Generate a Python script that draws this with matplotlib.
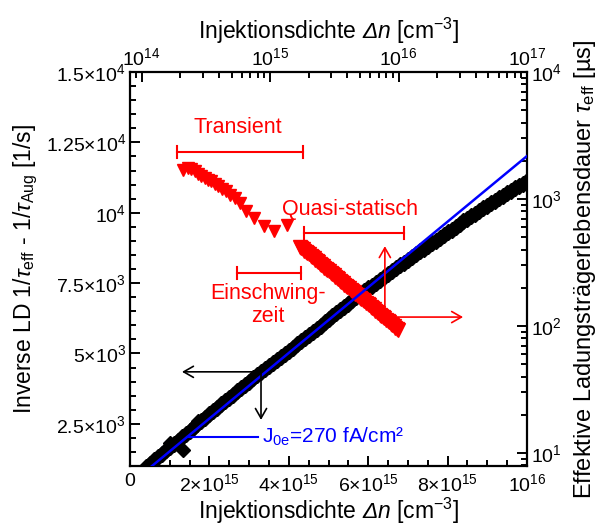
import numpy as np
import matplotlib
matplotlib.use("Agg")
import matplotlib.pyplot as plt
from matplotlib.ticker import MultipleLocator, FixedLocator, FixedFormatter, LogLocator, NullFormatter

plt.rcParams['font.family'] = ['Liberation Sans', 'DejaVu Sans']
plt.rcParams['mathtext.fontset'] = 'custom'
plt.rcParams['mathtext.rm'] = 'Liberation Sans'
plt.rcParams['mathtext.it'] = 'Liberation Sans:italic'
plt.rcParams['mathtext.bf'] = 'Liberation Sans:bold'
# italic slot usable for capital Greek (mathit forces those upright)
plt.rcParams['mathtext.sf'] = 'Liberation Sans:italic'

# inverse lifetime vs injection density (bottom / left axes), dn in 1e15 cm^-3
dn_meas = [0.4, 0.5, 0.6, 0.7, 0.8, 0.9, 1.0, 1.1, 1.2, 1.3, 1.4, 1.5, 1.6, 1.7,
           1.8, 1.9, 2.0, 2.1, 2.2, 2.3, 2.4, 2.5, 2.6, 2.7, 2.8, 2.9, 3.0, 3.1,
           3.2, 3.3, 3.4, 3.5, 3.6, 3.7, 3.8, 3.9, 4.0, 4.1, 4.2, 4.3, 4.4, 4.5,
           4.6, 4.7, 4.8, 4.9, 5.0, 5.1, 5.2, 5.3, 5.4, 5.5, 5.6, 5.7, 5.8, 5.9,
           6.0, 6.1, 6.2, 6.3, 6.4, 6.5, 6.6, 6.7, 6.8, 6.9, 7.0, 7.1, 7.2, 7.3,
           7.4, 7.5, 7.6, 7.7, 7.8, 7.9, 8.0, 8.1, 8.2, 8.3, 8.4, 8.5, 8.6, 8.7,
           8.8, 8.9, 9.0, 9.1, 9.2, 9.3, 9.4, 9.5, 9.6, 9.7, 9.8, 9.9, 10.0]
inv_meas = [970, 1087, 1204, 1320, 1437, 1553, 1670, 1787, 1903, 2020, 2136, 2253,
            2370, 2487, 2603, 2720, 2836, 2953, 3069, 3186, 3302, 3419, 3536, 3652,
            3769, 3886, 4002, 4110, 4219, 4328, 4436, 4546, 4656, 4766, 4877, 4988,
            5098, 5210, 5321, 5432, 5544, 5656, 5768, 5880, 5991, 6102, 6214, 6326,
            6437, 6548, 6660, 6772, 6884, 6990, 7097, 7204, 7310, 7412, 7515, 7618,
            7720, 7822, 7924, 8024, 8125, 8226, 8326, 8424, 8523, 8622, 8720, 8818,
            8916, 9012, 9109, 9206, 9302, 9398, 9495, 9592, 9688, 9782, 9877, 9970,
            10063, 10156, 10248, 10337, 10426, 10515, 10604, 10691, 10778, 10862,
            10946, 11030, 11114]
dn_outl = [1.0, 1.34, 1.71]
inv_outl = [1820, 1570, 2600]

# J0e fit line
fit_dn = [0.5, 10.0]
fit_inv = [937, 12014]

# lifetime vs injection density (top / right axes)
dn_trans = [2.10e14, 2.29e14, 2.44e14, 2.58e14, 2.74e14, 2.91e14, 3.09e14, 3.28e14,
            3.48e14, 3.70e14, 3.93e14, 4.25e14, 4.51e14, 4.84e14, 5.29e14, 5.79e14,
            6.53e14, 7.45e14, 8.90e14, 1.08e15, 1.35e15]
tau_trans = [1700, 1750, 1722, 1648, 1581, 1507, 1462, 1418, 1374, 1312, 1256, 1199,
             1148, 1081, 1019, 931, 809, 709, 610, 556, 628]

# quasi-static, dn in 1e15 cm^-3, tau in us
dn_qss = [1.698, 1.746, 1.795, 1.845, 1.897, 1.950, 2.005, 2.061, 2.118, 2.177,
          2.239, 2.302, 2.366, 2.432, 2.500, 2.570, 2.642, 2.716, 2.793, 2.871,
          2.951, 3.034, 3.119, 3.206, 3.296, 3.388, 3.483, 3.581, 3.681, 3.784,
          3.890, 3.999, 4.111, 4.226, 4.345, 4.467, 4.592, 4.721, 4.853, 4.989,
          5.129, 5.273, 5.420, 5.572, 5.728, 5.888, 6.053, 6.222, 6.397, 6.576,
          6.761, 6.950, 7.145, 7.345, 7.551, 7.762, 7.980, 8.203, 8.433, 8.669,
          8.913, 9.163, 9.419, 9.683, 9.954]
tau_qss = [421.7, 411.8, 402.2, 392.8, 383.7, 374.7, 365.9, 357.3, 348.9, 340.7,
           332.8, 325.0, 317.4, 310.0, 302.7, 295.6, 288.7, 281.9, 275.4, 268.9,
           262.6, 256.5, 250.5, 244.6, 238.9, 233.3, 227.8, 222.5, 217.3, 212.2,
           207.3, 202.4, 197.7, 193.1, 188.5, 184.1, 179.8, 175.6, 171.5, 167.5,
           163.6, 159.8, 156.0, 152.3, 148.8, 145.3, 141.9, 138.6, 135.3, 132.1,
           129.0, 126.0, 123.1, 120.2, 117.4, 114.7, 111.9, 109.3, 106.8, 104.3,
           101.8, 99.4, 97.1, 94.8, 92.6]

left_ticks = [2500, 5000, 7500, 10000, 12500, 15000]
left_labels = [r'$2.5{\times}10^3$', r'$5{\times}10^3$', r'$7.5{\times}10^3$',
               r'$10^4$', r'$1.25{\times}10^4$', r'$1.5{\times}10^4$']
bottom_ticks = [0, 2e15, 4e15, 6e15, 8e15, 1e16]
bottom_labels = ['0', r'$2{\times}10^{15}$', r'$4{\times}10^{15}$',
                 r'$6{\times}10^{15}$', r'$8{\times}10^{15}$', r'$10^{16}$']

RED = '#ff0000'
BLUE = '#0000ff'
XLABEL = r'Injektionsdichte $\mathsf{Δn}$ [cm$^{-3}$]'

fig = plt.figure(figsize=(5.97, 5.25), dpi=100)
pos = [130 / 597, 1 - 466 / 525, 397 / 597, 394 / 525]
ax = fig.add_axes(pos)
ax_r = fig.add_axes(pos, facecolor='none')

# host axes
ax.plot(np.array(dn_meas) * 1e15, inv_meas, 'D', color='black', ms=8.3, ls='none')
ax.plot(np.array(dn_outl) * 1e15, inv_outl, 'D', color='black', ms=7.5, ls='none')
ax.set_xlim(0, 1e16)
ax.set_ylim(1000, 15000)
ax.xaxis.set_major_locator(FixedLocator(bottom_ticks))
ax.xaxis.set_major_formatter(FixedFormatter(bottom_labels))
ax.xaxis.set_minor_locator(MultipleLocator(5e14))
ax.yaxis.set_major_locator(FixedLocator(left_ticks))
ax.yaxis.set_major_formatter(FixedFormatter(left_labels))
ax.yaxis.set_minor_locator(MultipleLocator(500))
ax.tick_params(which='both', direction='in', width=1.4, labelsize=14, top=False, right=False)
ax.tick_params(which='major', length=7)
ax.tick_params(which='minor', length=4.5)
ax.tick_params(axis='x', pad=5)
ax.tick_params(axis='y', pad=3)
for s in ax.spines.values():
    s.set_linewidth(1.6)
ax.set_xlabel(XLABEL, fontsize=16.5, labelpad=1)
ax.set_ylabel(r'Inverse LD $\mathit{1/\tau}_{\mathrm{eff}}$ - 1/$\tau_{\mathrm{Aug}}$ [1/s]',
              fontsize=16.5, labelpad=4)

# red (log) axes: top / right
ax_r.plot(dn_trans, tau_trans, 'v', color=RED, ms=9, ls='none')
ax_r.plot(np.array(dn_qss) * 1e15, tau_qss, 'v', color=RED, ms=10.5, ls='none')
ax_r.set_xscale('log')
ax_r.set_yscale('log')
ax_r.set_xlim(8.1e13, 1e17)
ax_r.set_ylim(7.9, 1e4)
for s in ax_r.spines.values():
    s.set_visible(False)
ax_r.xaxis.set_ticks_position('top')
ax_r.xaxis.set_label_position('top')
ax_r.yaxis.set_ticks_position('right')
ax_r.yaxis.set_label_position('right')
ax_r.xaxis.set_major_locator(LogLocator(base=10, numticks=10))
ax_r.xaxis.set_minor_locator(LogLocator(base=10, subs=np.arange(2, 10), numticks=20))
ax_r.xaxis.set_minor_formatter(NullFormatter())
ax_r.yaxis.set_minor_formatter(NullFormatter())
ax_r.tick_params(which='both', direction='in', width=1.4, labelsize=14)
ax_r.tick_params(which='major', length=7)
ax_r.tick_params(which='minor', length=4.5)
ax_r.tick_params(axis='x', pad=2)
ax_r.tick_params(axis='y', pad=3)
ax_r.set_xlabel(XLABEL, fontsize=16.5, labelpad=6)
ax_r.set_ylabel(r'Effektive Ladungsträgerlebensdauer $\mathit{\tau}_{\mathrm{eff}}$ [µs]',
                fontsize=17, labelpad=7, rotation=90)

# fit line on top of the red markers
ax_r.plot(np.array(fit_dn) * 1e15, fit_inv, color=BLUE, lw=1.8, transform=ax.transData)

# annotations (axes fraction)
T = ax_r.transAxes


def bracket(x0, x1, y, h=0.016):
    ax_r.plot([x0, x1], [y, y], color=RED, lw=1.5, transform=T)
    ax_r.plot([x0, x0], [y - h, y + h], color=RED, lw=1.5, transform=T)
    ax_r.plot([x1, x1], [y - h, y + h], color=RED, lw=1.5, transform=T)


def arrow(x0, y0, x1, y1, color):
    ax_r.annotate('', xy=(x1, y1), xytext=(x0, y0), xycoords='axes fraction',
                  arrowprops=dict(arrowstyle='->,head_length=0.7,head_width=0.4',
                                  color=color, lw=1.2, shrinkA=0, shrinkB=0))


bracket(0.118, 0.436, 0.797)
bracket(0.438, 0.690, 0.591)
bracket(0.270, 0.431, 0.490)
ax_r.text(0.272, 0.860, 'Transient', transform=T, color=RED, fontsize=15.5,
          ha='center', va='center')
ax_r.text(0.554, 0.650, 'Quasi-statisch', transform=T, color=RED, fontsize=15.5,
          ha='center', va='center')
ax_r.text(0.348, 0.409, 'Einschwing-\nzeit', transform=T, color=RED, fontsize=15.5,
          ha='center', va='center', multialignment='center', linespacing=1.15)

arrow(0.642, 0.378, 0.642, 0.558, RED)
arrow(0.642, 0.378, 0.839, 0.378, RED)
arrow(0.330, 0.239, 0.131, 0.239, 'black')
arrow(0.330, 0.239, 0.330, 0.117, 'black')

ax_r.plot([0.144, 0.322], [0.074, 0.074], color=BLUE, lw=1.5, transform=T)
ax_r.text(0.333, 0.074, r'J$_{\mathrm{0e}}$=270 fA/cm²', transform=T, color=BLUE,
          fontsize=15, ha='left', va='center')

fig.savefig('out.png', dpi=100)
